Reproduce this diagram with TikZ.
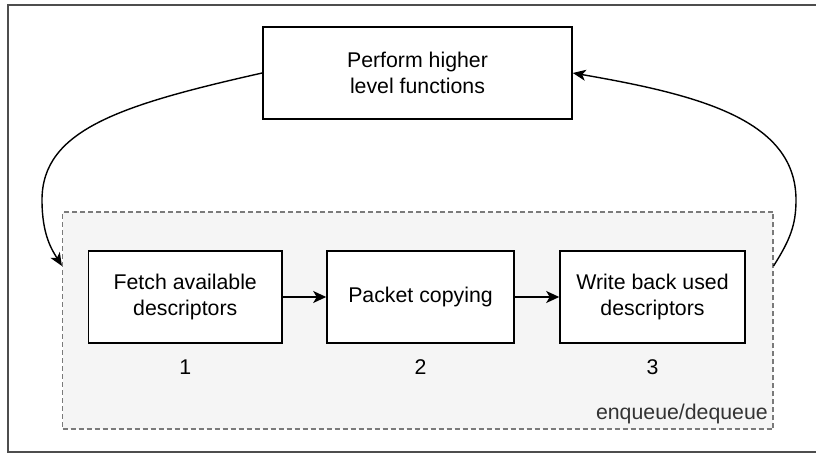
\documentclass[tikz,border=0pt]{standalone}
\usepackage{fontspec}
\setmainfont{Liberation Sans}
\usetikzlibrary{arrows.meta,calc}
\definecolor{framegray}{HTML}{4D4D4D}
\definecolor{groupfill}{HTML}{F5F5F5}
\definecolor{groupline}{HTML}{7A7A7A}
\definecolor{labelgray}{HTML}{333333}
\tikzset{
  procbox/.style={draw=black, line width=1.6pt, fill=white, align=center,
    inner sep=0pt, font=\fontsize{21.3}{25.5}\selectfont},
  stepnum/.style={font=\fontsize{21.3}{25.5}\selectfont, inner sep=0pt},
  flow/.style={line width=1.5pt, -{Stealth[length=13pt,width=12pt,inset=3.5pt]}},
  loop/.style={line width=1.4pt, -{Stealth[length=13pt,width=11pt,inset=3.5pt]}},
}
\begin{document}
\begin{tikzpicture}[x=1pt,y=-1pt]
  \useasboundingbox (0,0) rectangle (816,454);
  % outer frame, running off the right edge
  \begin{scope}
    \clip (0,0) rectangle (816,454);
    \draw[framegray, line width=1.8pt] (8,5) rectangle (840,452);
  \end{scope}

  % dashed group holding the three steps
  \node[draw=groupline, fill=groupfill, dash pattern=on 5pt off 3pt, line width=1.1pt,
        minimum width=710.5pt, minimum height=217pt, inner sep=0pt]
        (group) at (417.75,320.5) {};
  \node[anchor=base east, text=labelgray, font=\fontsize{21.3}{25.5}\selectfont, inner sep=0pt]
        (grouplbl) at (768,419) {enqueue/dequeue};

  % top box
  \node[procbox, minimum width=309pt, minimum height=92pt] (top) at (417.5,73)
        {Perform higher\\level functions};

  % step boxes
  \node[procbox, minimum width=193.5pt, minimum height=92pt] (fetch) at (185.25,297)
        {Fetch available\\descriptors};
  \node[procbox, minimum width=187pt, minimum height=92pt] (copy) at (420.5,297)
        {Packet copying};
  \node[procbox, minimum width=185pt, minimum height=92pt] (write) at (652.5,297)
        {Write back used\\descriptors};

  % step numbers
  \node[stepnum] (n1) at (185.25,367) {1};
  \node[stepnum] (n2) at (420.5,367) {2};
  \node[stepnum] (n3) at (652.5,367) {3};

  % straight flow between steps
  \draw[flow] (fetch) -- (copy);
  \draw[flow] (copy) -- (write);

  % loop connectors between the top box and the group
  \coordinate (gin)  at ($(group.north west)!0.25!(group.south west)$);
  \coordinate (gout) at ($(group.north east)!0.25!(group.south east)$);
  \coordinate (lmid) at (42,200);
  \coordinate (rmid) at (796,200);
  \draw[loop] (top.west) .. controls (120,105) and (42,130) .. (lmid)
              .. controls (42,235) and (52,250) .. (gin);
  \draw[loop] (gout) .. controls (790,240) and (796,225) .. (rmid)
              .. controls (796,120) and (700,95) .. (top.east);
\end{tikzpicture}
\end{document}
